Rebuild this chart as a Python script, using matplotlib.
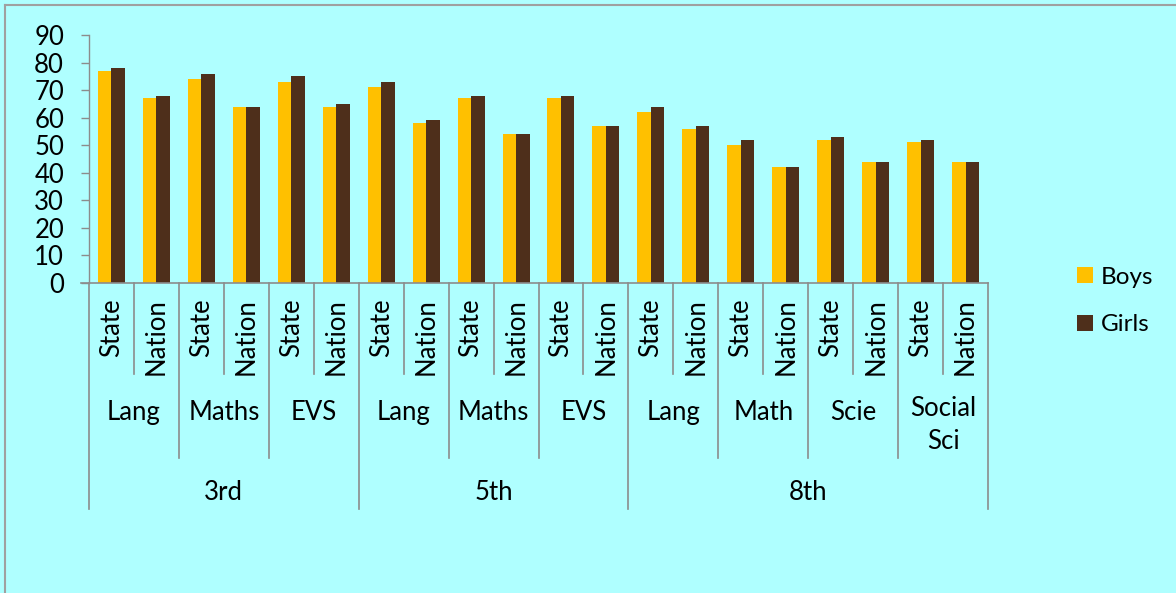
import matplotlib
matplotlib.use("Agg")
import matplotlib.pyplot as plt
from matplotlib.patches import Patch
from matplotlib.lines import Line2D
import matplotlib.transforms as mtransforms

plt.rcParams['font.family'] = ['Lato', 'DejaVu Sans']

# ---- data ----
grades = ["3rd", "5th", "8th"]
subjects = [["Lang", "Maths", "EVS"],
            ["Lang", "Maths", "EVS"],
            ["Lang", "Math", "Scie", "Social\nSci"]]
levels = ["State", "Nation"]
boys = [77, 67, 74, 64, 73, 64,
        71, 58, 67, 54, 67, 57,
        62, 56, 50, 42, 52, 44, 51, 44]
girls = [78, 68, 76, 64, 75, 65,
         73, 59, 68, 54, 68, 57,
         64, 57, 52, 42, 53, 44, 52, 44]
yticks = [0, 10, 20, 30, 40, 50, 60, 70, 80, 90]

BG = "#AFFFFF"
BOYS_C = "#FFC000"
GIRLS_C = "#4E2F1B"
GRID_C = "#8C8C8C"
FS = 18.5

W, H = 1176, 593
fig = plt.figure(figsize=(W / 100, H / 100), dpi=100)
fig.patch.set_facecolor(BG)

ax_l, ax_r, ax_t, ax_b = 89, 988, 35, 283
ax = fig.add_axes([ax_l / W, 1 - ax_b / H, (ax_r - ax_l) / W, (ax_b - ax_t) / H])
ax.set_facecolor(BG)

n = len(boys)
x = list(range(n))
bw = 0.3
ax.bar([xi - bw / 2 for xi in x], boys, width=bw, color=BOYS_C, label="Boys", zorder=3)
ax.bar([xi + bw / 2 for xi in x], girls, width=bw, color=GIRLS_C, label="Girls", zorder=3)

ax.set_xlim(-0.5, n - 0.5)
ax.set_ylim(0, 90)
ax.set_yticks(yticks)
ax.set_yticklabels([str(v) for v in yticks], fontsize=FS)
ax.tick_params(axis='y', direction='out', length=6, width=1, color=GRID_C, pad=12)
ax.set_xticks([])
for s in ["top", "right", "bottom"]:
    ax.spines[s].set_visible(False)
ax.spines["left"].set_color(GRID_C)
ax.spines["left"].set_linewidth(1)

ah = ax_b - ax_t
def yax(px):
    return (ax_b - px) / ah

trans = mtransforms.blended_transform_factory(ax.transData, ax.transAxes)

# x axis line (extended left like the 0 tick)
ax.add_line(Line2D([-0.5 - 8 / 45, n - 0.5], [0, 0], transform=trans, color=GRID_C,
                   lw=1.2, clip_on=False, zorder=4))

# multi-level category axis
y1, y2, y3 = yax(374), yax(458), yax(509)
idx = 0
boundaries = {}
for g, subs in zip(grades, subjects):
    gstart = idx
    for s in subs:
        sstart = idx
        for lv in levels:
            ax.text(idx, yax(298), lv, rotation=90, ha='center', va='top',
                    fontsize=FS, transform=trans, clip_on=False)
            idx += 1
        boundaries.setdefault(sstart + 0.5, y1)
        boundaries[sstart - 0.5] = min(boundaries.get(sstart - 0.5, 0), y2)
        ty = 425 if "\n" in s else 412
        ax.text(sstart + 0.5, yax(ty), s, ha='center', va='center',
                fontsize=FS, transform=trans, clip_on=False, linespacing=1.4)
    boundaries[gstart - 0.5] = y3
    ax.text((gstart + idx - 1) / 2, yax(492), g, ha='center', va='center',
            fontsize=FS, transform=trans, clip_on=False)
boundaries[n - 0.5] = y3

for bx, by in boundaries.items():
    ax.add_line(Line2D([bx, bx], [0, by], transform=trans, color=GRID_C,
                       lw=1.2, clip_on=False))

# legend
handles = [Patch(facecolor=BOYS_C, label="Boys"), Patch(facecolor=GIRLS_C, label="Girls")]
fig.legend(handles=handles, loc='center left', bbox_to_anchor=(1055 / W, 1 - 301 / H),
           frameon=False, fontsize=17.5, handlelength=0.65, handleheight=0.65,
           handletextpad=0.35, labelspacing=1.1)

# outer frame lines (top and left)
fig.add_artist(Line2D([5 / W, 1], [1 - 5 / H, 1 - 5 / H], transform=fig.transFigure,
                      color="#A0A0A0", lw=1.5))
fig.add_artist(Line2D([5 / W, 5 / W], [0, 1 - 5 / H], transform=fig.transFigure,
                      color="#A0A0A0", lw=1.5))

fig.savefig("out.png", dpi=100, facecolor=BG)
